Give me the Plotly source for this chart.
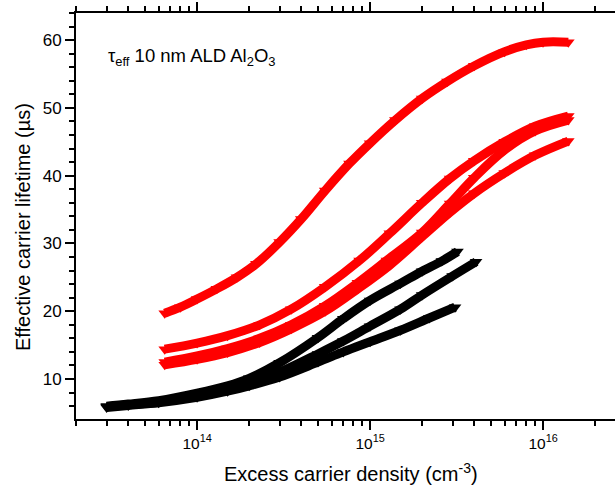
import plotly.graph_objects as go

# Effective lifetime vs. excess carrier density, 10 nm ALD Al2O3 passivation
# Black: as-deposited samples, red: annealed samples

black_a_n = [3.0e13, 4e13, 6e13, 1e14, 1.5e14, 2e14, 3e14, 5e14, 7e14, 1e15, 1.5e15, 2e15, 2.6e15, 3.2e15]
black_a_tau = [6.0, 6.3, 6.8, 7.9, 9.0, 10.1, 12.4, 16.1, 18.9, 21.6, 24.1, 25.9, 27.4, 28.8]

black_b_n = [3.0e13, 4e13, 6e13, 1e14, 1.5e14, 2e14, 3e14, 5e14, 7e14, 1e15, 1.5e15, 2e15, 3e15, 4.1e15]
black_b_tau = [5.9, 6.2, 6.6, 7.5, 8.5, 9.4, 11.0, 13.7, 15.6, 17.8, 20.3, 22.4, 25.2, 27.3]

black_c_n = [3.0e13, 4e13, 6e13, 1e14, 1.5e14, 2e14, 3e14, 5e14, 7e14, 1e15, 1.5e15, 2.2e15, 3.1e15]
black_c_tau = [5.8, 6.1, 6.5, 7.3, 8.2, 9.0, 10.3, 12.5, 14.0, 15.5, 17.2, 19.0, 20.6]

red_1_n = [6.5e13, 8e13, 1e14, 1.3e14, 1.7e14, 2.2e14, 3e14, 4e14, 5.5e14, 7.6e14, 1e15, 1.4e15, 2e15, 2.8e15, 4e15, 6e15, 8e15, 1e16, 1.4e16]
red_1_tau = [19.7, 20.6, 21.8, 23.3, 25.0, 27.0, 30.2, 33.6, 37.8, 41.8, 44.8, 48.2, 51.4, 53.9, 56.2, 58.3, 59.3, 59.7, 59.7]

red_2_n = [6.5e13, 1e14, 1.5e14, 2.3e14, 3.5e14, 5.5e14, 8.7e14, 1.3e15, 2e15, 2.9e15, 4e15, 6e15, 9e15, 1.4e16]
red_2_tau = [14.4, 15.3, 16.4, 18.0, 20.3, 23.6, 27.5, 31.5, 36.0, 39.6, 42.2, 45.0, 47.3, 48.8]

red_3_n = [6.5e13, 1e14, 1.5e14, 2.3e14, 3.5e14, 5.5e14, 8.5e14, 1.25e15, 2e15, 2.9e15, 4e15, 6e15, 9e15, 1.4e16]
red_3_tau = [12.5, 13.4, 14.5, 16.0, 18.0, 20.8, 24.2, 27.5, 31.6, 35.9, 39.7, 43.8, 46.6, 48.2]

red_4_n = [6.5e13, 1e14, 1.5e14, 2.3e14, 3.5e14, 5.5e14, 8.5e14, 1.3e15, 2e15, 2.9e15, 4e15, 6e15, 9e15, 1.4e16]
red_4_tau = [12.1, 12.9, 13.9, 15.4, 17.4, 20.0, 23.3, 26.8, 31.0, 34.6, 37.4, 40.4, 43.0, 45.1]

x_major = [1e14, 1e15, 1e16]
x_major_text = ["10<sup>14</sup>", "10<sup>15</sup>", "10<sup>16</sup>"]

FONT = "Liberation Sans, Arial, sans-serif"

series = [
    (black_a_n, black_a_tau, "black"),
    (black_b_n, black_b_tau, "black"),
    (black_c_n, black_c_tau, "black"),
    (red_1_n, red_1_tau, "#ff0000"),
    (red_2_n, red_2_tau, "#ff0000"),
    (red_3_n, red_3_tau, "#ff0000"),
    (red_4_n, red_4_tau, "#ff0000"),
]

fig = go.Figure()
for xs, ys, col in series:
    fig.add_trace(go.Scatter(
        x=xs, y=ys, mode="lines+markers",
        line=dict(color=col, width=9, shape="spline", smoothing=1.0),
        marker=dict(symbol="triangle-down", size=11, color=col),
        showlegend=False,
    ))

# minor ticks at 2..9 of every decade
x_minor = [m * 10.0 ** e for e in range(13, 17) for m in range(2, 10)]

fig.update_layout(
    width=615, height=488,
    margin=dict(l=76, r=0, t=13, b=69),
    paper_bgcolor="white", plot_bgcolor="white",
    font=dict(family=FONT, color="black"),
    xaxis=dict(
        type="log", range=[13.30, 16.416],
        tickmode="array", tickvals=x_major, ticktext=x_major_text,
        ticks="outside", ticklen=9, tickwidth=1.5, tickcolor="black",
        tickfont=dict(size=15.5, family=FONT),
        showline=True, linewidth=2, linecolor="black", mirror="ticks",
        showgrid=False, zeroline=False,
        minor=dict(tickmode="array", tickvals=x_minor, ticks="outside",
                   ticklen=5, tickwidth=1.5, tickcolor="black", showgrid=False),
    ),
    yaxis=dict(
        range=[4.1, 64.0],
        tick0=0, dtick=10,
        ticks="outside", ticklen=9, tickwidth=1.5, tickcolor="black",
        tickfont=dict(size=17, family=FONT),
        showline=True, linewidth=2, linecolor="black",
        showgrid=False, zeroline=False,
        minor=dict(dtick=2, ticks="outside", ticklen=5, tickwidth=1.5,
                   tickcolor="black", showgrid=False),
    ),
    annotations=[
        dict(text="Excess carrier density (cm<sup>-3</sup>)",
             xref="paper", yref="paper", x=(351 - 76) / 539, y=-(472 - 419) / 406,
             xanchor="center", yanchor="middle", showarrow=False,
             font=dict(size=20, family=FONT)),
        dict(text="Effective carrier lifetime (\u00b5s)",
             xref="paper", yref="paper", x=-(76 - 23) / 539, y=(419 - 227) / 406,
             xanchor="center", yanchor="middle", textangle=-90, showarrow=False,
             font=dict(size=20, family=FONT)),
        dict(text="\u03c4<sub>eff</sub> 10 nm ALD Al<sub>2</sub>O<sub>3</sub>",
             xref="paper", yref="paper", x=(106 - 76) / 539, y=(419 - 57) / 406,
             xanchor="left", yanchor="middle", showarrow=False,
             font=dict(size=18.5, family=FONT)),
    ],
)

fig.write_html("out.html")
